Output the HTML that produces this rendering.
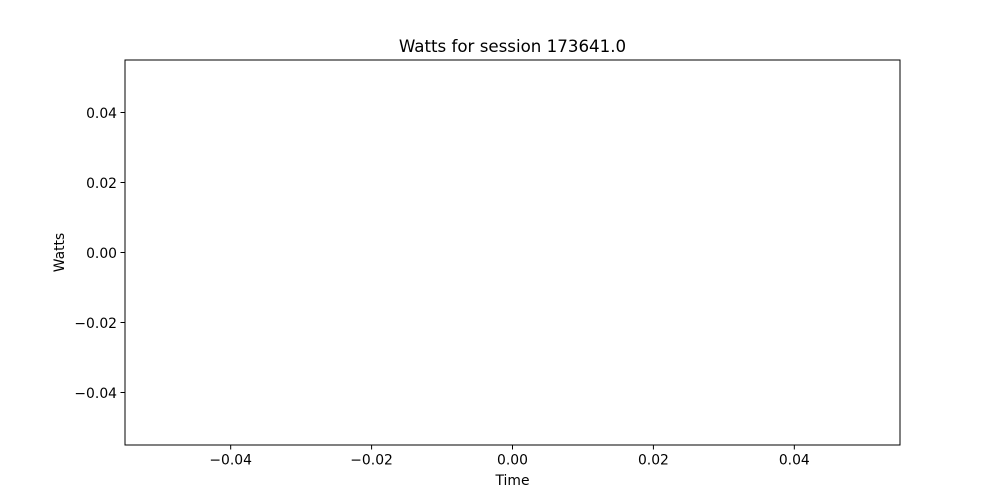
<!DOCTYPE html>
<html><head><meta charset="utf-8"><style>
html,body{margin:0;padding:0;background:#fff;}
svg{display:block;font-family:"DejaVu Sans","Liberation Sans",sans-serif;}
</style></head><body>
<svg id="chart" width="1000" height="500" viewBox="0 0 1000 500">
<rect x="0" y="0" width="1000" height="500" fill="#fff"/>
<text x="512.5" y="52" font-size="16.67" text-anchor="middle" fill="#000">Watts for session 173641.0</text>
<g id="xticks"></g>
<g id="yticks"></g>
<rect x="125" y="60" width="775" height="385" fill="none" stroke="#000" stroke-width="1"/>
<text x="512.5" y="485" font-size="13.9" text-anchor="middle">Time</text>
<text x="64" y="252.5" font-size="13.9" text-anchor="middle" transform="rotate(-90 64 252.5)">Watts</text>
</svg>
<script>
const xTickValues=[-0.04,-0.02,0,0.02,0.04];
const xTickLabels=["\u22120.04","\u22120.02","0.00","0.02","0.04"];
const yTickValues=[-0.04,-0.02,0,0.02,0.04];
const yTickLabels=["\u22120.04","\u22120.02","0.00","0.02","0.04"];
const seriesValues=[];
const L=125,R=900,T=60,B=445,min=-0.055,max=0.055;
const xs=v=>L+(v-min)/(max-min)*(R-L);
const ys=v=>B-(v-min)/(max-min)*(B-T);
const NS="http://www.w3.org/2000/svg";
const gx=document.getElementById('xticks'),gy=document.getElementById('yticks');
xTickValues.forEach((v,i)=>{
 const x=xs(v);
 const l=document.createElementNS(NS,'line');
 l.setAttribute('x1',x);l.setAttribute('x2',x);l.setAttribute('y1',B);l.setAttribute('y2',B+4.5);l.setAttribute('stroke','#000');
 
 
 gx.appendChild(l);
 const t=document.createElementNS(NS,'text');
 t.setAttribute('x',x);t.setAttribute('y',B+19.5);t.setAttribute('font-size','13.9');t.setAttribute('text-anchor','middle');
 t.textContent=xTickLabels[i];
 
 
 gx.appendChild(t);
});
yTickValues.forEach((v,i)=>{
 const y=ys(v);
 const l=document.createElementNS(NS,'line');
 l.setAttribute('x1',L-4.5);l.setAttribute('x2',L);l.setAttribute('y1',y);l.setAttribute('y2',y);l.setAttribute('stroke','#000');
 
 
 gy.appendChild(l);
 const t=document.createElementNS(NS,'text');
 t.setAttribute('x',L-8);t.setAttribute('y',y+5.3);t.setAttribute('font-size','13.9');t.setAttribute('text-anchor','end');
 t.textContent=yTickLabels[i];
 
 
 gy.appendChild(t);
});
</script>
</body></html>
